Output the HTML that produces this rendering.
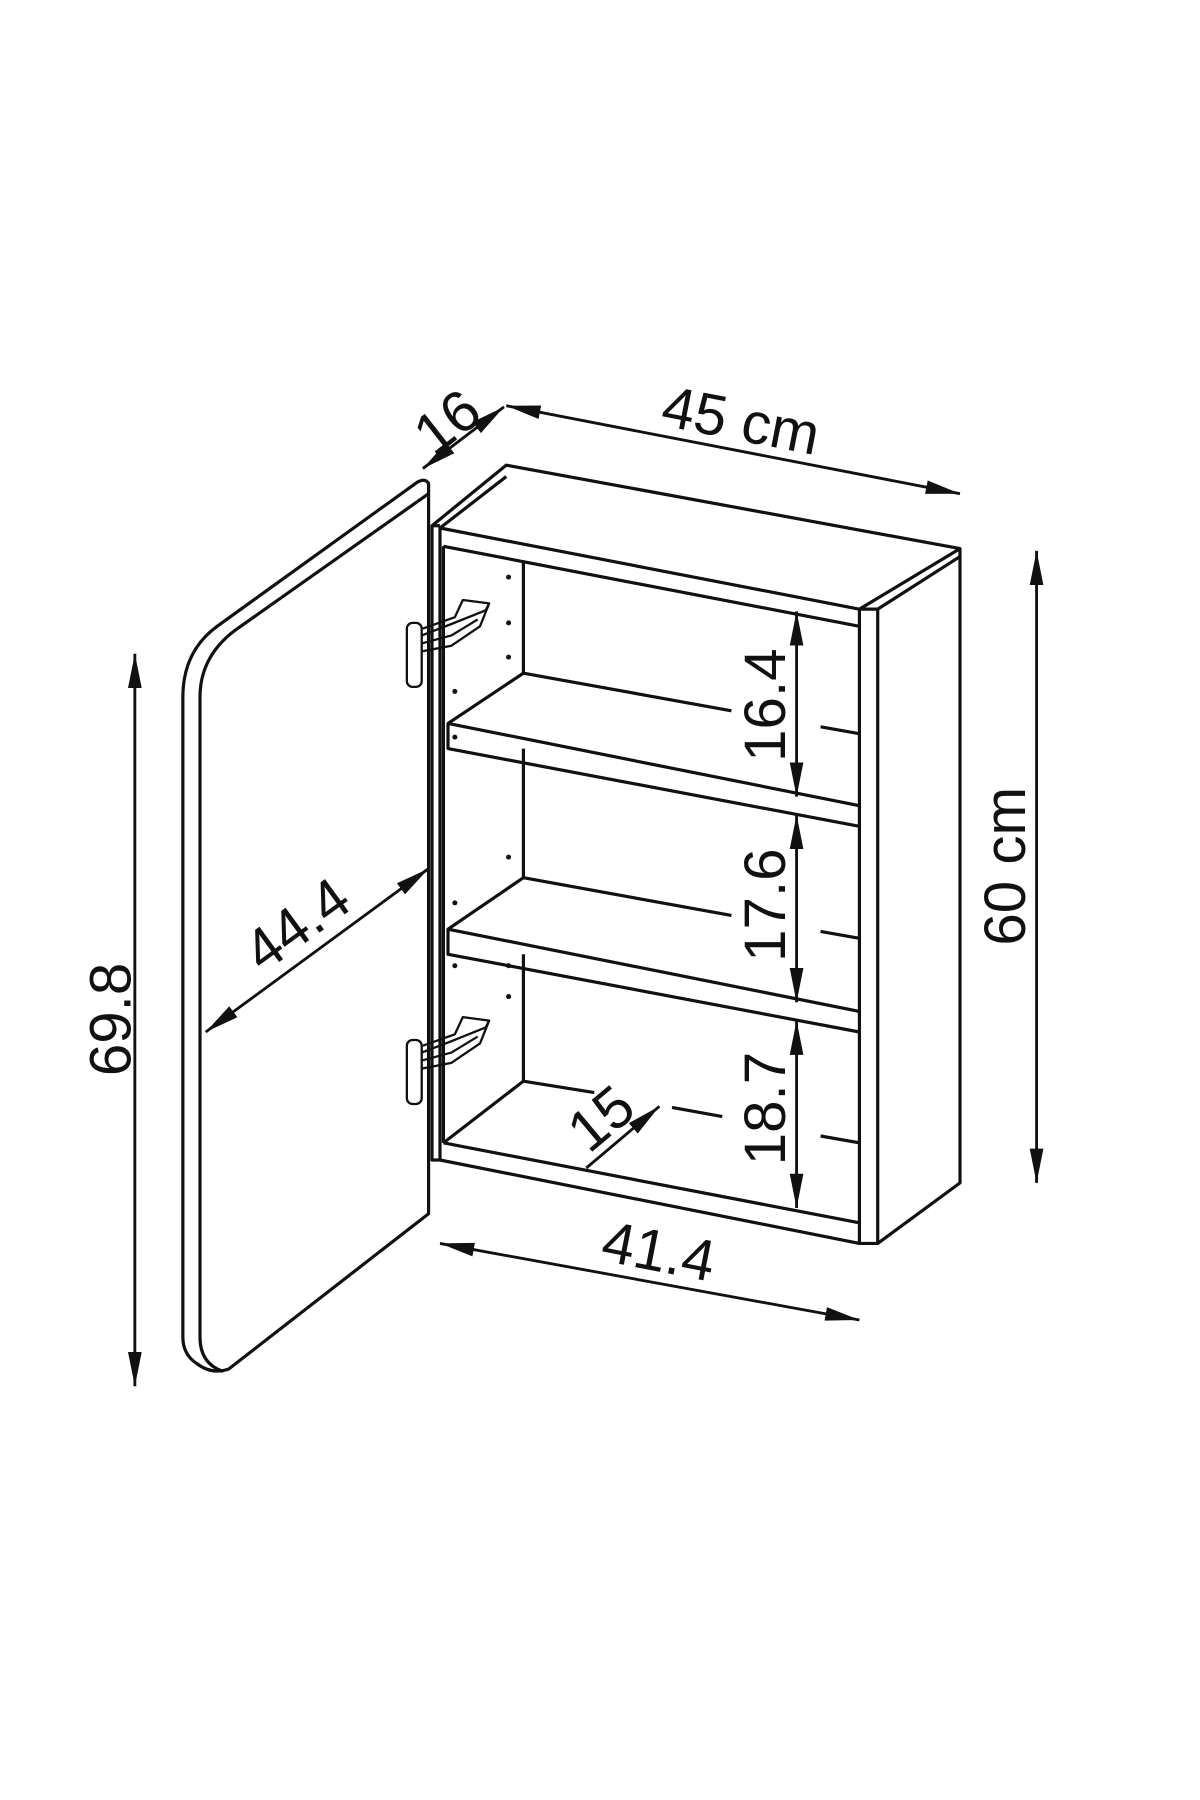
<!DOCTYPE html>
<html><head><style>html,body{margin:0;padding:0;background:#fff}svg{display:block}</style></head>
<body>
<svg width="1200" height="1800" viewBox="0 0 1050 1575" xmlns="http://www.w3.org/2000/svg">
<defs>
<marker id="b" viewBox="0 0 30 12" refX="30" refY="6" markerWidth="30" markerHeight="12" orient="auto-start-reverse" markerUnits="userSpaceOnUse"><path d="M0,0 L30,6 L0,12 z" fill="#111"/></marker>
</defs>
<g fill="none" stroke="#111" stroke-width="2.8" stroke-linejoin="round">
<!-- door -->
<path d="M375,423 L375,1062 L200,1198 Q185,1203 172,1193 Q160,1185 160,1170 L160,610 Q160,570 190,548 L365,422 Q372,418 375,423 Z"/>
<path d="M375,432 L205,552 Q175,575 175,610 L175,1170 Q175,1193 195,1200"/>
<!-- cabinet outer -->
<path d="M378,460 L443,407 L840,480 L840,1035 L768,1088 L752,1088 L385,1015 L378,1015 Z"/>
<line x1="385" y1="460" x2="385" y2="1015"/>
<line x1="378" y1="460" x2="385" y2="460"/>
<line x1="385" y1="462" x2="443" y2="417"/>
<line x1="385" y1="462" x2="752" y2="533"/>
<line x1="752" y1="533" x2="840" y2="480"/>
<line x1="752" y1="533" x2="768" y2="533"/>
<line x1="768" y1="533" x2="840" y2="487"/>
<line x1="752" y1="533" x2="752" y2="1088"/>
<line x1="768" y1="533" x2="768" y2="1088"/>
<line x1="388" y1="478" x2="752" y2="548"/>
<line x1="388" y1="478" x2="388" y2="1000"/>
<line x1="458" y1="492" x2="458" y2="589"/>
<line x1="458" y1="655" x2="458" y2="768"/>
<line x1="458" y1="835" x2="458" y2="946"/>
<!-- bottom -->
<line x1="388" y1="1000" x2="458" y2="946"/>
<line x1="388" y1="1000" x2="752" y2="1070"/>
<line x1="458" y1="946" x2="520" y2="956"/>
<line x1="588" y1="969" x2="632" y2="977"/>
<line x1="718" y1="994" x2="752" y2="1000"/>
<!-- shelf 1 -->
<path d="M458,589 L392,633 L392,655 L752,723"/>
<line x1="392" y1="633" x2="752" y2="705"/>
<line x1="458" y1="589" x2="640" y2="622"/>
<line x1="718" y1="636" x2="752" y2="642"/>
<!-- shelf 2 -->
<path d="M458,768 L392,813 L392,835 L752,903"/>
<line x1="392" y1="813" x2="752" y2="885"/>
<line x1="458" y1="768" x2="640" y2="801"/>
<line x1="718" y1="815" x2="752" y2="821"/>
<!-- hinges -->
<g stroke-width="2">
<rect x="356" y="545" width="13" height="56" rx="5"/>
<path d="M369,556 L395,546 L425,534 L428,528 L405,525 L398,540 L370,550"/>
<path d="M369,570 L395,565 L420,548 L428,528"/>
<path d="M369,563 L395,556 L418,542"/>
<rect x="356" y="910" width="13" height="56" rx="5"/>
<path d="M369,921 L395,911 L425,899 L428,893 L405,890 L398,905 L370,915"/>
<path d="M369,935 L395,930 L420,913 L428,893"/>
<path d="M369,928 L395,921 L418,907"/>
</g>
</g>
<g fill="#111">
<circle cx="445" cy="505" r="2.2"/><circle cx="445" cy="545" r="2.2"/><circle cx="445" cy="575" r="2.2"/>
<circle cx="398" cy="605" r="2.2"/><circle cx="398" cy="645" r="2.2"/>
<circle cx="445" cy="750" r="2.2"/><circle cx="398" cy="790" r="2.2"/><circle cx="398" cy="845" r="2.2"/><circle cx="445" cy="845" r="2.2"/><circle cx="445" cy="872" r="2.2"/>
</g>
<!-- dimensions -->
<g stroke="#111" stroke-width="2.5">
<line x1="118" y1="572" x2="118" y2="1213" marker-start="url(#b)" marker-end="url(#b)"/>
<line x1="180" y1="903" x2="375" y2="760" marker-start="url(#b)" marker-end="url(#b)"/>
<line x1="370" y1="410" x2="441" y2="356" marker-start="url(#b)" marker-end="url(#b)"/>
<line x1="443" y1="355" x2="840" y2="432" marker-start="url(#b)" marker-end="url(#b)"/>
<line x1="907" y1="482" x2="907" y2="1035" marker-start="url(#b)" marker-end="url(#b)"/>
<line x1="697" y1="535" x2="697" y2="697" marker-start="url(#b)" marker-end="url(#b)"/>
<line x1="697" y1="713" x2="697" y2="877" marker-start="url(#b)" marker-end="url(#b)"/>
<line x1="697" y1="893" x2="697" y2="1057" marker-start="url(#b)" marker-end="url(#b)"/>
<line x1="513" y1="1022" x2="577" y2="968" marker-end="url(#b)"/>
<line x1="385" y1="1088" x2="752" y2="1155" marker-start="url(#b)" marker-end="url(#b)"/>
</g>
<g font-family="Liberation Sans, sans-serif" font-size="51" fill="#111" text-anchor="middle">
<text transform="translate(114,892) rotate(-90)">69.8</text>
<text transform="translate(270,823) rotate(-36)">44.4</text>
<text transform="translate(402,383) rotate(-38)">16</text>
<text transform="translate(645,385) rotate(11)">45 cm</text>
<text transform="translate(897,758) rotate(-90)">60 cm</text>
<text transform="translate(687,617) rotate(-90)">16.4</text>
<text transform="translate(687,792) rotate(-90)">17.6</text>
<text transform="translate(687,970) rotate(-90)">18.7</text>
<text transform="translate(537,992) rotate(-40)">15</text>
<text transform="translate(573,1112) rotate(11)">41.4</text>
</g>
</svg>
</body></html>
